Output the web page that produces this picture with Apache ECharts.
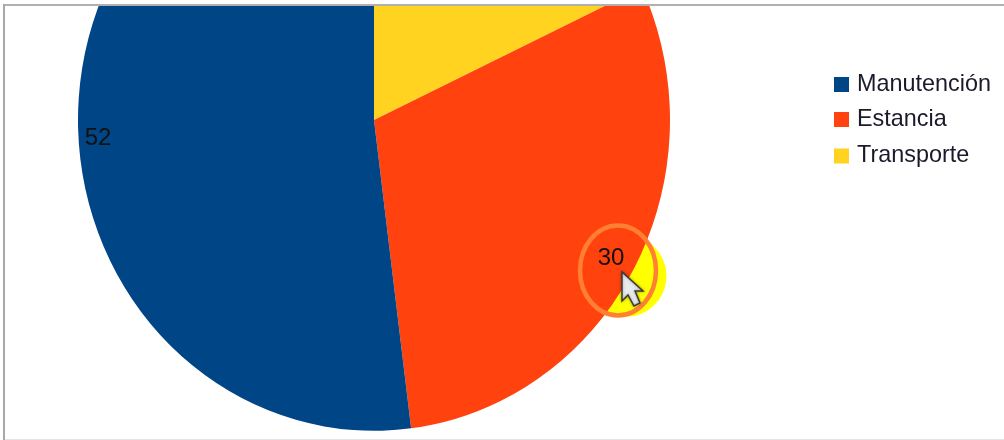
<!DOCTYPE html>
<html><head><meta charset="utf-8">
<style>html,body{margin:0;padding:0;background:#fff}#c{width:1004px;height:440px}</style>
<script src="https://cdn.jsdelivr.net/npm/echarts@6/dist/echarts.min.js"></script>
</head><body><div id="c"></div>
<script>
const categories = ['Transporte', 'Estancia', 'Manutención'];
const values = [18, 30, 52];
const legendOrder = ['Manutención', 'Estancia', 'Transporte'];
const colors = { 'Manutención': '#004586', 'Estancia': '#ff420e', 'Transporte': '#ffd320' };
const shownLabels = { 'Manutención': { x: 98, y: 138 }, 'Estancia': { x: 611, y: 258 } };
const legendY = [73, 108, 144.5];
const SCALE_Y = 1.05, CY = 120;

const chart = echarts.init(document.getElementById('c'), null, { renderer: 'canvas' });
chart.setOption({
  animation: false,
  backgroundColor: '#fff',
  legend: legendOrder.map((n, i) => ({
    data: [n], left: 834, top: legendY[i], orient: 'vertical', itemWidth: 15, itemHeight: 15, itemGap: 0, padding: 0,
    selectedMode: false, icon: 'rect',
    textStyle: { fontFamily: 'Liberation Sans', fontSize: 23.4, color: '#1a1a2a', padding: [0, 0, 0, 3] }
  })),
  series: [{
    type: 'pie', center: [374, CY], radius: [0, 296], startAngle: 90, clockwise: true,
    silent: true,
    data: categories.map((n, i) => ({
      name: n, value: values[i], itemStyle: { color: colors[n] },
      label: { show: n in shownLabels, position: 'inside', formatter: '{c}', color: '#111',
               fontFamily: 'Liberation Sans', fontSize: 24 },
      labelLine: { show: false }
    })),
    labelLayout: p => {
      const n = categories[p.dataIndex];
      return shownLabels[n] ? { x: shownLabels[n].x, y: shownLabels[n].y, align: 'center', verticalAlign: 'middle' } : {};
    }
  }],
  graphic: { elements: [
    { type: 'circle', z: 1, shape: { cx: 625.5, cy: 276, r: 41 }, style: { fill: '#ffff00' } },
    { type: 'rect', z: 100, shape: { x: 0, y: 0, width: 1004, height: 6 }, style: { fill: '#fff' } },
    { type: 'rect', z: 100, shape: { x: 3, y: 4, width: 1001, height: 2 }, style: { fill: '#b0b0b0' } },
    { type: 'rect', z: 100, shape: { x: 3, y: 4, width: 2, height: 436 }, style: { fill: '#a8a8a8' } },
    { type: 'rect', z: 100, shape: { x: 5, y: 439, width: 999, height: 1 }, style: { fill: '#e4e4e4' } },
    { type: 'ellipse', z: 100, shape: { cx: 618, cy: 270.5, rx: 38, ry: 45 }, style: { fill: 'none', stroke: '#ff8033', lineWidth: 4.5 } },
    { type: 'polygon', z: 101, shape: { points: [[622,272],[622,301],[628,295],[634,306],[640,303],[635,291],[643,291]] },
      style: { fill: '#e8eaee', stroke: '#3a3a3a', lineWidth: 1.5, shadowBlur: 3, shadowColor: 'rgba(0,0,0,0.35)' } }
  ] }
});
const view = chart._chartsViews && chart._chartsViews[0];
if (view) { view.group.originY = CY; view.group.scaleY = SCALE_Y; view.group.markRedraw(); view.group.dirty && view.group.dirty(); chart.getZr().refreshImmediately(); }
</script></body></html>
